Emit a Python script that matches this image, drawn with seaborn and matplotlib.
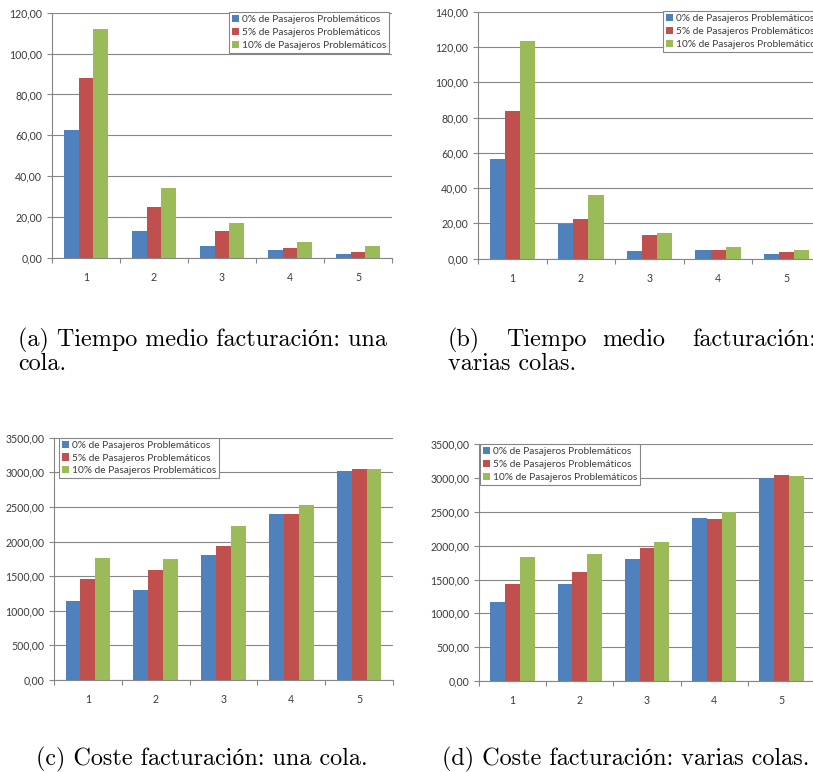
import matplotlib
matplotlib.use('Agg')
import matplotlib.pyplot as plt
import seaborn as sns
import pandas as pd
from matplotlib.ticker import FuncFormatter, MultipleLocator, FixedLocator

# ---------------- data ----------------
categorias = ['1', '2', '3', '4', '5']
series = ['0% de Pasajeros Problemáticos',
          '5% de Pasajeros Problemáticos',
          '10% de Pasajeros Problemáticos']
colores = ['#4F81BD', '#C0504D', '#9BBB59']

tiempo_una_0 = [62.4, 13.2, 6.0, 3.7, 2.1]
tiempo_una_5 = [88.1, 24.9, 13.2, 4.9, 2.9]
tiempo_una_10 = [112.0, 34.2, 17.1, 7.7, 5.7]

tiempo_varias_0 = [56.7, 19.8, 4.3, 4.9, 2.6]
tiempo_varias_5 = [83.7, 22.3, 13.4, 4.9, 4.0]
tiempo_varias_10 = [123.4, 36.1, 14.4, 6.4, 4.9]

coste_una_0 = [1146, 1295, 1805, 2397, 3014]
coste_una_5 = [1463, 1584, 1930, 2397, 3043]
coste_una_10 = [1757, 1748, 2224, 2527, 3043]

coste_varias_0 = [1175, 1441, 1807, 2404, 3006]
coste_varias_5 = [1427, 1614, 1965, 2394, 3051]
coste_varias_10 = [1831, 1881, 2049, 2498, 3031]

caption_a = ['(a) Tiempo medio facturación: una', 'cola.']
caption_b_words = ['(b)', 'Tiempo', 'medio', 'facturación:']
caption_b_line2 = 'varias colas.'
caption_c = '(c) Coste facturación: una cola.'
caption_d = '(d) Coste facturación: varias colas.'

# ---------------- style ----------------
W, H = 813, 772
sns.set_theme(style='white')
plt.rcParams['font.family'] = ['Lato', 'DejaVu Sans']
GRAY = '#868686'
TXT = '#3a3a3a'
SERIF = ['cmr10', 'Liberation Serif', 'DejaVu Serif']

fig = plt.figure(figsize=(W / 100, H / 100), dpi=100)
fig.patch.set_facecolor('white')


def rect(l, t, r, b):
    return [l / W, 1 - b / H, (r - l) / W, (b - t) / H]


def fmt(v, pos):
    return f'{v:.2f}'.replace('.', ',')


panels = [
    dict(vals=[tiempo_una_0, tiempo_una_5, tiempo_una_10], box=(52, 12.7, 392, 258),
         ymax=120, step=20, leg=(229, 12)),
    dict(vals=[tiempo_varias_0, tiempo_varias_5, tiempo_varias_10], box=(478, 11.7, 821, 258.7),
         ymax=140, step=20, leg=(663, 11)),
    dict(vals=[coste_una_0, coste_una_5, coste_una_10], box=(54, 437.7, 393, 680),
         ymax=3500, step=500, leg=(59, 437.7)),
    dict(vals=[coste_varias_0, coste_varias_5, coste_varias_10], box=(479, 444.3, 815, 681),
         ymax=3500, step=500, leg=(480, 444)),
]

for p in panels:
    rows = []
    for s, v in zip(series, p['vals']):
        for c, val in zip(categorias, v):
            rows.append({'grupo': c, 'serie': s, 'valor': val})
    df = pd.DataFrame(rows)
    ax = fig.add_axes(rect(*p['box']))
    sns.barplot(data=df, x='grupo', y='valor', hue='serie', order=categorias,
                hue_order=series, palette=colores, saturation=1, width=0.66,
                errorbar=None, linewidth=0, ax=ax)
    ax.set_xlim(-0.5, 4.5)
    ax.set_ylim(0, p['ymax'])
    ax.yaxis.set_major_locator(MultipleLocator(p['step']))
    ax.yaxis.set_major_formatter(FuncFormatter(fmt))
    ax.set_xlabel('')
    ax.set_ylabel('')
    ax.set_axisbelow(True)
    ax.grid(axis='y', color=GRAY, linewidth=0.8)
    ax.grid(axis='x', visible=False)
    for side in ['top', 'right']:
        ax.spines[side].set_visible(False)
    for side in ['left', 'bottom']:
        ax.spines[side].set_color(GRAY)
        ax.spines[side].set_linewidth(0.8)
    ax.tick_params(axis='y', which='major', length=3.6, width=0.8, color=GRAY,
                   labelsize=7.6, labelcolor=TXT, pad=3.5, left=True)
    ax.tick_params(axis='x', which='major', length=0, labelsize=7.6,
                   labelcolor=TXT, pad=10)
    ax.xaxis.set_minor_locator(FixedLocator([i - 0.5 for i in range(6)]))
    ax.tick_params(axis='x', which='minor', length=3.6, width=0.8, color=GRAY,
                   bottom=True, direction='out')
    handles, labels = ax.get_legend_handles_labels()
    if ax.get_legend() is not None:
        ax.get_legend().remove()
    lx, ly = p['leg']
    leg = ax.legend(handles, labels, loc='upper left',
                    bbox_to_anchor=(lx / W, 1 - ly / H), bbox_transform=fig.transFigure,
                    borderaxespad=0, fontsize=7.3, frameon=True, fancybox=False,
                    framealpha=1, edgecolor=GRAY, handlelength=0.7, handleheight=0.7,
                    handletextpad=0.3, labelspacing=0.36, borderpad=0.3)
    leg.get_frame().set_linewidth(0.8)
    for t in leg.get_texts():
        t.set_color(TXT)

# ---------------- captions ----------------
renderer = fig.canvas.get_renderer()


def fitted_size(text, target_w, base=12):
    t = fig.text(0, 0, text, fontsize=base, family=SERIF)
    w = t.get_window_extent(renderer=renderer).width
    t.remove()
    return base * target_w / w


cap_size = fitted_size(caption_a[0], 369)


def put(x, y, s):
    fig.text(x / W, 1 - y / H, s, fontsize=cap_size, family=SERIF,
             ha='left', va='baseline', color='black')


put(18, 346, caption_a[0])
put(18, 370, caption_a[1])
for word, x in zip(caption_b_words, [448, 506, 602, 692]):
    put(x, 346, word)
put(448, 370, caption_b_line2)
put(36, 765, caption_c)
put(442, 765, caption_d)

fig.savefig('out.png', dpi=100, facecolor='white')
